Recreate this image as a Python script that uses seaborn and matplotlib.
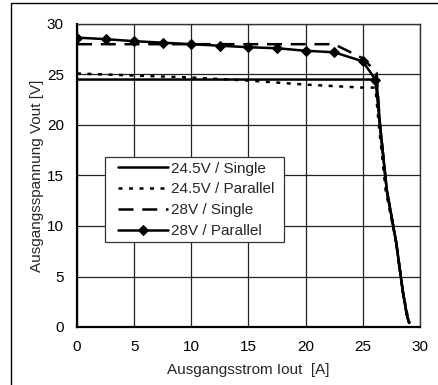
import matplotlib
matplotlib.use("Agg")
import matplotlib.pyplot as plt
import seaborn as sns
import pandas as pd
from matplotlib.patches import Rectangle

# Data
s1_x = [0, 5, 10, 15, 20, 25, 26.2, 26.5, 27.1, 27.9, 28.5, 28.85, 29.05]
s1_y = [24.5, 24.5, 24.5, 24.5, 24.5, 24.5, 24.5, 20.0, 13.5, 8.5, 3.5, 1.2, 0.4]

p1_x = [0, 2.5, 5, 7.5, 10, 12.5, 15, 17.5, 20, 22.5, 25, 26.1, 26.4, 27.0, 27.9, 28.5, 28.9, 29.1]
p1_y = [25.1, 25.0, 24.9, 24.8, 24.7, 24.55, 24.4, 24.2, 24.0, 23.85, 23.7, 23.7, 20.0, 13.5, 8.5, 3.5, 1.2, 0.4]

s2_x = [0, 22.5, 25, 26.2, 26.5, 27.1, 27.9, 28.5, 28.85, 29.05]
s2_y = [28.0, 28.0, 26.6, 25.2, 20.0, 13.5, 8.5, 3.5, 1.2, 0.4]

p2_x = [0, 2.5, 5, 7.5, 10, 12.5, 15, 17.5, 20, 22.5, 25, 26.1]
p2_y = [28.65, 28.5, 28.3, 28.15, 28.0, 27.85, 27.7, 27.6, 27.35, 27.2, 26.3, 24.5]
p2_tail_x = [26.1, 26.5, 27.1, 27.9, 28.5, 28.85, 29.05]
p2_tail_y = [24.5, 20.0, 13.5, 8.5, 3.5, 1.2, 0.4]

labels = ["24.5V / Single", "24.5V / Parallel", "28V / Single", "28V / Parallel"]
x_ticks = [0, 5, 10, 15, 20, 25, 30]
y_ticks = [0, 5, 10, 15, 20, 25, 30]

sns.set_style("white")
plt.rcParams['font.family'] = ['Liberation Sans', 'DejaVu Sans']

fig = plt.figure(figsize=(4.39, 3.85), dpi=100)
ax = fig.add_axes([77/439, 1-327/385, (420-77)/439, (327-24)/385])

lw = 1.8
sns.lineplot(x=s1_x, y=s1_y, sort=False, ax=ax, color='black', lw=lw, label=labels[0])
sns.lineplot(x=p1_x, y=p1_y, sort=False, ax=ax, color='black', lw=lw, label=labels[1],
             dashes=False, linestyle=(0, (1.6, 2.6)))
sns.lineplot(x=s2_x, y=s2_y, sort=False, ax=ax, color='black', lw=lw, label=labels[2],
             linestyle=(0, (6, 3.5)))
sns.lineplot(x=p2_x, y=p2_y, sort=False, ax=ax, color='black', lw=lw, label=labels[3],
             marker='D', markersize=5.5, markeredgecolor='black')
sns.lineplot(x=p2_tail_x, y=p2_tail_y, sort=False, ax=ax, color='black', lw=lw, legend=False)

ax.set_xlim(0, 30)
ax.set_ylim(0, 30)
ax.set_xticks(x_ticks)
ax.set_yticks(y_ticks)
ax.grid(True, color='#222222', lw=0.9)
ax.set_axisbelow(True)
for side in ['left', 'bottom']:
    ax.spines[side].set_color('black')
    ax.spines[side].set_linewidth(1.6)
for side in ['top', 'right']:
    ax.spines[side].set_color('#333333')
    ax.spines[side].set_linewidth(1.0)
ax.tick_params(axis='both', direction='inout', length=6, width=1, labelsize=11,
               colors='black', pad=6.5)
ax.set_xlabel("Ausgangsstrom Iout  [A]", fontsize=11, labelpad=6)
ax.set_ylabel("Ausgangsspannung Vout [V]", fontsize=11, labelpad=2)

# Legend box drawn as a patch, legend content placed inside
box = Rectangle((0.0816, 0.2805), 0.522, 0.2805, transform=ax.transAxes,
                facecolor='white', edgecolor='#333333', lw=0.9, zorder=4)
ax.add_patch(box)
leg = ax.legend(loc='upper left', bbox_to_anchor=(0.1195, 0.546), borderaxespad=0,
                frameon=False, fontsize=11,
                handlelength=3.3, handletextpad=0.2, labelspacing=0.45,
                borderpad=0)
leg.set_zorder(5)

fig.patches.append(Rectangle((11/439, -0.1), 1.2, 1 - 3/385 + 0.1, transform=fig.transFigure,
                             fill=False, edgecolor='black', lw=1.0))

fig.savefig("out.png", dpi=100)
